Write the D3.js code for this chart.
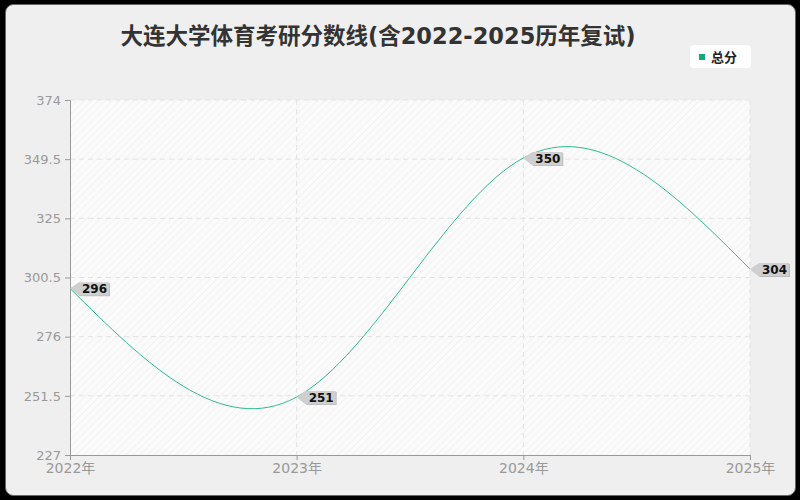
<!DOCTYPE html>
<html>
<head>
<meta charset="utf-8">
<script src="https://cdn.jsdelivr.net/npm/d3@7"></script>
<style>
  html, body { margin: 0; padding: 0; background: #000; }
  svg { display: block; }
</style>
</head>
<body>
<svg id="chart"></svg>
<script>
// chart data
const years = ["2022年", "2023年", "2024年", "2025年"];
const totalScores = [296, 251, 350, 304];
const yTicks = [227, 251.5, 276, 300.5, 325, 349.5, 374];
const seriesName = "总分";
const titleText = "大连大学体育考研分数线(含2022-2025历年复试)";

const width = 800, height = 500;
const margin = { top: 100, right: 50, bottom: 45, left: 70 };
const plotW = width - margin.left - margin.right;
const plotH = height - margin.top - margin.bottom;
const lineColor = "#2dbd8b";
const font = "'DejaVu Sans', 'Noto Sans CJK SC', sans-serif";

const svg = d3.select("#chart")
  .attr("width", width)
  .attr("height", height)
  .style("font-family", font);

// hatch pattern for plot background
const defs = svg.append("defs");
const pat = defs.append("pattern")
  .attr("id", "hatch")
  .attr("patternUnits", "userSpaceOnUse")
  .attr("width", 5)
  .attr("height", 5)
  .attr("patternTransform", "rotate(45)");
pat.append("rect").attr("width", 5).attr("height", 5).attr("fill", "#fbfbfb");
pat.append("line")
  .attr("x1", 0).attr("y1", 0).attr("x2", 0).attr("y2", 5)
  .attr("stroke", "#efefef").attr("stroke-width", 1.5);

// outer frame
svg.append("rect")
  .attr("x", 5.5).attr("y", 4.5)
  .attr("width", 790).attr("height", 491)
  .attr("rx", 8)
  .attr("fill", "#efefef")
  .attr("stroke", "#666");

// title
svg.append("text")
  .attr("x", 378)
  .attr("y", 44)
  .attr("text-anchor", "middle")
  .attr("font-size", 22.5)
  .attr("font-weight", "bold")
  .attr("fill", "#333")
  .text(titleText);

// legend
const legend = svg.append("g").attr("transform", "translate(690,45)");
legend.append("rect")
  .attr("width", 61).attr("height", 23).attr("rx", 4)
  .attr("fill", "#fff");
legend.append("rect")
  .attr("x", 9).attr("y", 9).attr("width", 6).attr("height", 6)
  .attr("fill", "#12a97a");
legend.append("text")
  .attr("x", 21).attr("y", 16.5)
  .attr("font-size", 13)
  .attr("font-weight", "bold")
  .attr("fill", "#222")
  .text(seriesName);

const g = svg.append("g")
  .attr("transform", `translate(${margin.left},${margin.top})`);

// scales
const x = d3.scalePoint()
  .domain(years)
  .range([0, plotW]);

const y = d3.scaleLinear()
  .domain([yTicks[0], yTicks[yTicks.length - 1]])
  .range([plotH, 0]);

// plot background
g.append("rect")
  .attr("width", plotW).attr("height", plotH)
  .attr("fill", "url(#hatch)");

// grid lines
g.append("g")
  .selectAll("line")
  .data(yTicks.slice(1))
  .join("line")
  .attr("x1", 0).attr("x2", plotW)
  .attr("y1", d => y(d)).attr("y2", d => y(d))
  .attr("stroke", "#e2e2e2")
  .attr("stroke-dasharray", "5,4");

g.append("g")
  .selectAll("line")
  .data(years.slice(1))
  .join("line")
  .attr("x1", d => x(d)).attr("x2", d => x(d))
  .attr("y1", 0).attr("y2", plotH)
  .attr("stroke", "#e2e2e2")
  .attr("stroke-dasharray", "5,4");

// axes
const yAxis = g.append("g")
  .call(d3.axisLeft(y).tickValues(yTicks).tickSize(5).tickPadding(4).tickFormat(d => d));
const xAxis = g.append("g")
  .attr("transform", `translate(0,${plotH})`)
  .call(d3.axisBottom(x).tickSize(5).tickPadding(3));

[yAxis, xAxis].forEach(ax => {
  ax.select(".domain").attr("stroke", "#999");
  ax.selectAll(".tick line").attr("stroke", "#999");
  ax.selectAll(".tick text")
    .attr("fill", "#999")
    .attr("font-family", font);
});
yAxis.selectAll(".tick text").attr("font-size", 13);
xAxis.selectAll(".tick text").attr("font-size", 14);

// line
const line = d3.line()
  .x((d, i) => x(years[i]))
  .y(d => y(d))
  .curve(d3.curveNatural);

g.append("path")
  .datum(totalScores)
  .attr("d", line)
  .attr("fill", "none")
  .attr("stroke", lineColor)
  .attr("stroke-width", 1);

// value labels with arrow shapes
const labels = g.append("g")
  .selectAll("g")
  .data(totalScores)
  .join("g")
  .attr("transform", (d, i) => `translate(${x(years[i])},${y(d)})`);

labels.append("path")
  .attr("d", "M1,1 L10,-5 L40,-5 L40,8 L10,8 Z")
  .attr("fill", "#999")
  .attr("opacity", 0.6);
labels.append("path")
  .attr("d", "M0,0 L9,-6 L39,-6 L39,7 L9,7 Z")
  .attr("fill", "#cfcfcf");
labels.append("text")
  .attr("x", 12)
  .attr("y", 5)
  .attr("font-size", 12)
  .attr("font-weight", "bold")
  .attr("fill", "#111")
  .text(d => d);
</script>
</body>
</html>
